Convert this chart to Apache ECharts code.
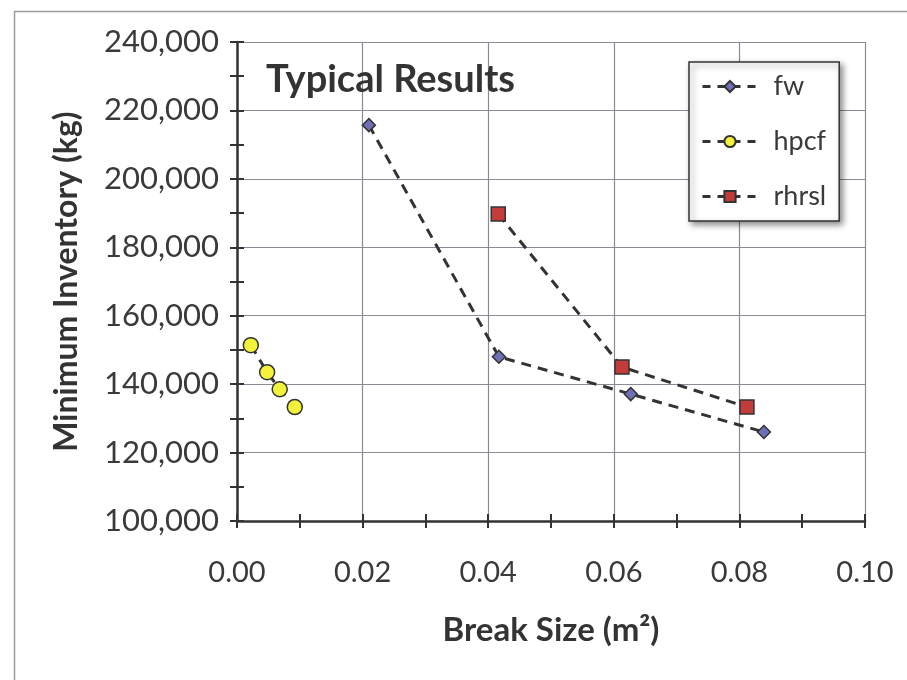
<!DOCTYPE html>
<html>
<head>
<meta charset="utf-8">
<script src="https://cdn.jsdelivr.net/npm/echarts@6/dist/echarts.min.js"></script>
<style>
html,body{margin:0;padding:0;background:#fff;}
#main{width:907px;height:680px;}
</style>
</head>
<body>
<div id="main"></div>
<script>
// ---- data ----
const fwX = [0.0210, 0.0417, 0.0627, 0.0839];
const fwY = [215700, 148000, 137100, 126000];
const hpcfX = [0.0022, 0.0048, 0.0068, 0.0092];
const hpcfY = [151400, 143500, 138500, 133300];
const rhrslX = [0.0416, 0.0613, 0.0812];
const rhrslY = [189700, 145000, 133300];
const seriesNames = ['fw', 'hpcf', 'rhrsl'];
const xTicks = ['0.00', '0.02', '0.04', '0.06', '0.08', '0.10'];
const yTicks = ['100,000','120,000','140,000','160,000','180,000','200,000','220,000','240,000'];
const chartTitle = 'Typical Results';
const xName = 'Break Size (m²)';
const yName = 'Minimum Inventory (kg)';

const pairs = (xs, ys) => xs.map((x, i) => [x, ys[i]]);
const FONT = 'Lato';
const TXT = '#3a3a3a';

const chart = echarts.init(document.getElementById('main'), null, {renderer: 'canvas'});
const lineStyle = {color: '#333', width: 3, type: [10, 7]};
const mk = (name, xs, ys, symbol, size, fill) => ({
  name: name, type: 'line', xAxisIndex: 0, yAxisIndex: 0,
  data: pairs(xs, ys), symbol: symbol, symbolSize: size,
  showAllSymbol: true, animation: false,
  lineStyle: lineStyle,
  itemStyle: {color: fill, borderColor: '#333', borderWidth: 1.5},
  emphasis: {disabled: true}
});

const xLabelFmt = v => { const i = Math.round(v / 0.02); return Math.abs(v - i * 0.02) < 1e-9 ? (xTicks[i] || '') : ''; };
const yLabelFmt = v => { const i = Math.round((v - 100000) / 20000); return yTicks[i] || ''; };

chart.setOption({
  animation: false,
  backgroundColor: '#fff',
  title: {
    text: chartTitle, left: 261, top: 56,
    textStyle: {fontFamily: FONT, fontSize: 38, fontWeight: 'bold', color: '#333'}
  },
  legend: {
    data: seriesNames, orient: 'vertical', left: 689, top: 62,
    padding: [11, 13, 11, 12], itemGap: 28, itemWidth: 55, itemHeight: 14,
    backgroundColor: '#fff', borderColor: '#333', borderWidth: 1.5,
    shadowBlur: 6, shadowColor: 'rgba(0,0,0,0.45)', shadowOffsetX: 3, shadowOffsetY: 3,
    lineStyle: {width: 3, type: [8, 7], color: '#333'},
    textStyle: {fontFamily: FONT, fontSize: 27, color: TXT, lineHeight: 26, padding: [0, 0, 0, 11]}
  },
  grid: {left: 237, top: 42, width: 628, height: 479, containLabel: false},
  xAxis: [{
    type: 'value', min: 0, max: 0.1, interval: 0.02,
    name: xName, nameLocation: 'middle', nameGap: 93,
    nameTextStyle: {fontFamily: FONT, fontSize: 33, fontWeight: 'bold', color: '#333'},
    axisLine: {show: true, onZero: false, lineStyle: {color: '#333', width: 2.5}},
    axisTick: {show: true, length: 7, lineStyle: {color: '#333', width: 2}},
    minorTick: {show: true, splitNumber: 2, length: 7, lineStyle: {color: '#333', width: 2}},
    axisLabel: {fontFamily: FONT, fontSize: 29, color: TXT, margin: 37, formatter: xLabelFmt},
    splitLine: {show: true, lineStyle: {color: '#8c8a96', width: 1.2}}
  }, {
    type: 'value', min: 0, max: 0.1, interval: 0.02, position: 'bottom', gridIndex: 0,
    axisLine: {show: false}, axisLabel: {show: false}, splitLine: {show: false},
    axisTick: {show: true, inside: true, length: 7, lineStyle: {color: '#333', width: 2}},
    minorTick: {show: true, splitNumber: 2, length: 7, lineStyle: {color: '#333', width: 2}}
  }],
  yAxis: [{
    type: 'value', min: 100000, max: 240000, interval: 20000,
    name: yName, nameLocation: 'middle', nameGap: 154, nameRotate: 90,
    nameTextStyle: {fontFamily: FONT, fontSize: 32, fontWeight: 'bold', color: '#333'},
    axisLine: {show: true, onZero: false, lineStyle: {color: '#333', width: 2.5}},
    axisTick: {show: true, length: 7, lineStyle: {color: '#333', width: 2}},
    minorTick: {show: true, splitNumber: 2, length: 7, lineStyle: {color: '#333', width: 2}},
    axisLabel: {fontFamily: FONT, fontSize: 31, color: TXT, margin: 18, formatter: yLabelFmt},
    splitLine: {show: true, lineStyle: {color: '#8c8a96', width: 1.2}}
  }, {
    type: 'value', min: 100000, max: 240000, interval: 20000, position: 'left', gridIndex: 0,
    axisLine: {show: false}, axisLabel: {show: false}, splitLine: {show: false},
    axisTick: {show: true, inside: true, length: 7, lineStyle: {color: '#333', width: 2}},
    minorTick: {show: true, splitNumber: 2, length: 7, lineStyle: {color: '#333', width: 2}}
  }],
  graphic: [{
    type: 'rect', left: 12, top: 9, silent: true, z: -10,
    shape: {x: 0, y: 0, width: 1000, height: 1000},
    style: {fill: 'none', stroke: '#9a9a9a', lineWidth: 1.5}
  }],
  series: [
    mk('fw', fwX, fwY, 'diamond', 13, '#6f6fb5'),
    mk('hpcf', hpcfX, hpcfY, 'circle', 15, '#f2f23a'),
    mk('rhrsl', rhrslX, rhrslY, 'rect', 14, '#c23c3c')
  ]
});
</script>
</body>
</html>
